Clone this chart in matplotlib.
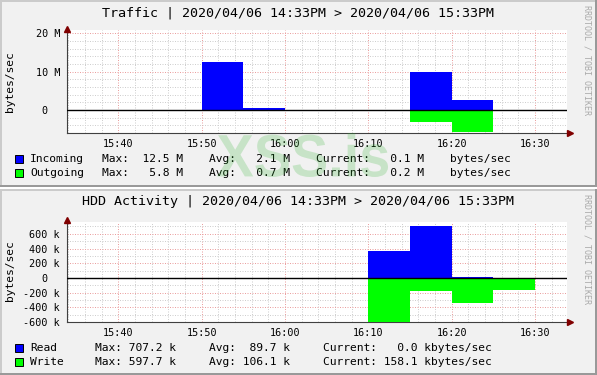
import matplotlib
matplotlib.use("Agg")
import matplotlib.pyplot as plt
from matplotlib.patches import Rectangle, PathPatch
from matplotlib.textpath import TextPath
from matplotlib.font_manager import FontProperties
from matplotlib.transforms import Affine2D
from matplotlib.ticker import MultipleLocator, FuncFormatter

W, H = 597, 375
MONO = "DejaVu Sans Mono"

# 5 minute bins, start time of each bin
bins = ["15:35", "15:40", "15:45", "15:50", "15:55", "16:00",
        "16:05", "16:10", "16:15", "16:20", "16:25"]
incoming = [0, 0, 0, 12.5, 0.5, 0, 0, 0, 9.9, 2.6, 0.1]      # M bytes/sec
outgoing = [0, 0, 0, 0, 0, 0, 0, 0, 3.1, 5.8, 0.2]           # M bytes/sec
read_k = [0, 0, 0, 0, 0, 0, 0, 371, 707.2, 15, 0]            # k bytes/sec
write_k = [0, 0, 0, 0, 0, 0, 0, 597.7, 178, 337, 158.1]      # k bytes/sec

traffic_legend = [
    ("#0000ff", "Incoming", "Max:  12.5 M", "Avg:   2.1 M", "Current:   0.1 M", "bytes/sec"),
    ("#00ff00", "Outgoing", "Max:   5.8 M", "Avg:   0.7 M", "Current:   0.2 M", "bytes/sec"),
]
hdd_legend = [
    ("#0000ff", "Read", "Max: 707.2 k", "Avg:  89.7 k", "Current:   0.0 kbytes/sec"),
    ("#00ff00", "Write", "Max: 597.7 k", "Avg: 106.1 k", "Current: 158.1 kbytes/sec"),
]


def tmin(s):
    h, m = s.split(":")
    return int(h) * 60 + int(m)


def fx(x):
    return x / W


def fy(y):
    return 1 - y / H


fig = plt.figure(figsize=(W / 100, H / 100), dpi=100, facecolor="white")


def panel(top, bottom):
    kw = dict(transform=fig.transFigure, ec="none", zorder=-5)
    fig.patches.append(Rectangle((0, fy(bottom)), 1, (bottom - top) / H, fc="#f1f1f1", **kw))
    # rrdtool style shade
    fig.patches.append(Rectangle((0, fy(top + 2)), 1, 2 / H, fc="#cbcbcb", **kw))
    fig.patches.append(Rectangle((0, fy(bottom)), 2 / W, (bottom - top) / H, fc="#cbcbcb", **kw))
    fig.patches.append(Rectangle((0, fy(bottom)), 1, 2 / H, fc="#999999", **kw))
    fig.patches.append(Rectangle((fx(W - 2), fy(bottom)), 2 / W, (bottom - top) / H,
                                 fc="#999999", **kw))


def make_axes(top, bottom, ylo, yhi, major, minor, unit):
    ax = fig.add_axes([fx(67), fy(bottom), 500 / W, (bottom - top) / H])
    ax.set_facecolor("white")
    ax.set_xlim(933.84, 993.84)
    ax.set_ylim(ylo, yhi)
    ax.xaxis.set_major_locator(MultipleLocator(10))
    ax.xaxis.set_minor_locator(MultipleLocator(2))
    ax.yaxis.set_major_locator(MultipleLocator(major))
    ax.yaxis.set_minor_locator(MultipleLocator(minor))
    ax.xaxis.set_major_formatter(FuncFormatter(lambda v, p: "%d:%02d" % (v // 60, v % 60)))
    ax.yaxis.set_major_formatter(FuncFormatter(
        lambda v, p: "0  " if abs(v) < 1e-9 else "%d %s" % (round(v), unit)))
    ax.grid(which="minor", color="#cfcfcf", linestyle=(0, (1, 1.5)), lw=0.72)
    ax.grid(which="major", color="#eba0a0", linestyle=(0, (1, 1.5)), lw=0.72)
    ax.set_axisbelow(True)
    ax.tick_params(which="both", length=0, labelsize=7.3, colors="black")
    ax.tick_params(axis="x", pad=4.2)
    ax.tick_params(axis="y", pad=5)
    for lab in ax.get_xticklabels() + ax.get_yticklabels():
        lab.set_fontfamily(MONO)
    for s in ["top", "right"]:
        ax.spines[s].set_visible(False)
    for s in ["left", "bottom"]:
        ax.spines[s].set_color("#404040")
        ax.spines[s].set_linewidth(0.8)
    ax.axhline(0, color="black", lw=1.0, zorder=4)
    ax.plot([1.006], [0], marker=">", ms=4.2, color="#800000", transform=ax.transAxes,
            clip_on=False, zorder=6)
    ax.plot([0], [1.012], marker="^", ms=4.2, color="#800000", transform=ax.transAxes,
            clip_on=False, zorder=6)
    return ax


x = [tmin(b) for b in bins]

# ---------- Traffic ----------
panel(0, 187)
ax1 = make_axes(30, 133.3, -6.1, 20.9, 10, 2, "M")
ax1.bar(x, incoming, width=5, align="edge", color="#0000ff", lw=0, zorder=3)
ax1.bar(x, [-v for v in outgoing], width=5, align="edge", color="#00ff00", lw=0, zorder=3)
fig.text(fx(298), fy(13), "Traffic | 2020/04/06 14:33PM > 2020/04/06 15:33PM",
         family=MONO, fontsize=9.6, ha="center", va="center")
fig.text(fx(10), fy(82), "bytes/sec", family=MONO, fontsize=8.1, rotation=90,
         ha="center", va="center")
fig.text(fx(587), fy(5), "RRDTOOL / TOBI OETIKER", family=MONO, fontsize=6,
         color="#aaaaaa", rotation=270, ha="center", va="top")
for i, (col, name, mx, avg, cur, unit) in enumerate(traffic_legend):
    yc = 159 + i * 14
    fig.patches.append(Rectangle((fx(15), fy(yc + 4)), 8 / W, 8 / H, transform=fig.transFigure,
                                 fc=col, ec="black", lw=0.7, zorder=5))
    for xp, s in [(30, name), (102, mx), (209, avg), (316, cur), (450, unit)]:
        fig.text(fx(xp), fy(yc), s, family=MONO, fontsize=8.1, ha="left", va="center")

# ---------- HDD Activity ----------
panel(189, 375)
ax2 = make_axes(221.7, 322, -600, 765, 200, 100, "k")
ax2.bar(x, read_k, width=5, align="edge", color="#0000ff", lw=0, zorder=3)
ax2.bar(x, [-v for v in write_k], width=5, align="edge", color="#00ff00", lw=0, zorder=3)
fig.text(fx(298), fy(202), "HDD Activity | 2020/04/06 14:33PM > 2020/04/06 15:33PM",
         family=MONO, fontsize=9.6, ha="center", va="center")
fig.text(fx(10), fy(271), "bytes/sec", family=MONO, fontsize=8.1, rotation=90,
         ha="center", va="center")
fig.text(fx(587), fy(194), "RRDTOOL / TOBI OETIKER", family=MONO, fontsize=6,
         color="#aaaaaa", rotation=270, ha="center", va="top")
for i, (col, name, mx, avg, cur) in enumerate(hdd_legend):
    yc = 348 + i * 14
    fig.patches.append(Rectangle((fx(15), fy(yc + 4)), 8 / W, 8 / H, transform=fig.transFigure,
                                 fc=col, ec="black", lw=0.7, zorder=5))
    for xp, s in [(30, name), (95, mx), (209, avg), (323, cur)]:
        fig.text(fx(xp), fy(yc), s, family=MONO, fontsize=8.1, ha="left", va="center")

# ---------- watermark ----------
tp = TextPath((0, 0), "XSS.is", size=100, prop=FontProperties(family="Liberation Sans", weight="bold"))
bb = tp.get_extents()
tr = (Affine2D().translate(-bb.x0, -bb.y0)
      .scale(171 / bb.width / W, 44 / bb.height / H)
      .translate(fx(217), fy(177)))
fig.add_artist(PathPatch(tr.transform_path(tp), fc=(0.2, 0.7, 0.2), alpha=0.22, ec="none",
                         transform=fig.transFigure, zorder=20))

fig.savefig("out.png", dpi=100, facecolor=fig.get_facecolor())
